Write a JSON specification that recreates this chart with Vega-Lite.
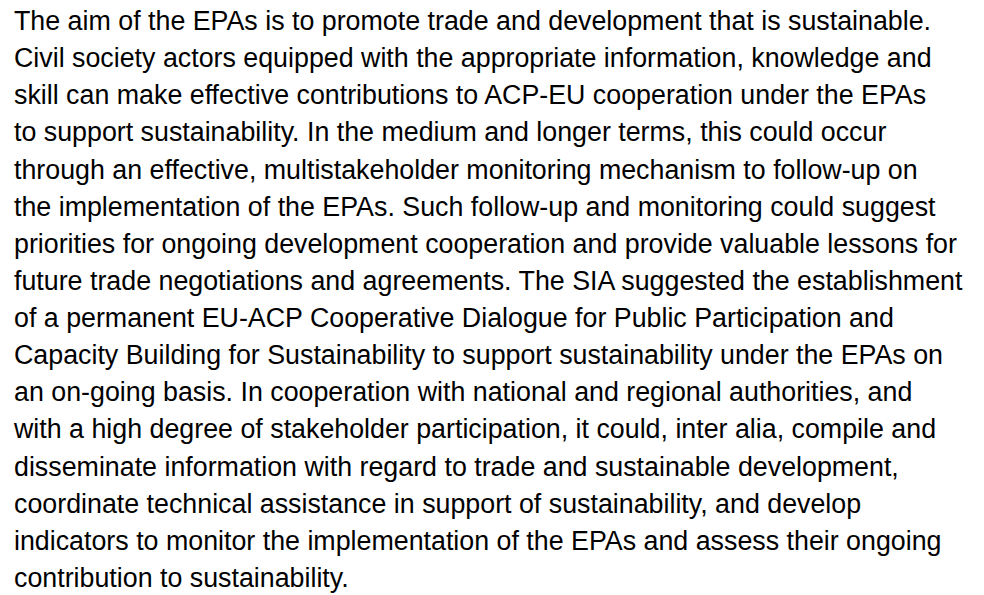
{
  "$schema": "https://vega.github.io/schema/vega-lite/v6.json",
  "width": 984,
  "height": 595,
  "autosize": {"type": "fit", "contains": "padding"},
  "padding": 0,
  "background": "white",
  "config": {"view": {"stroke": null}},
  "data": {"values": [
    {"line": 1, "text": "The aim of the EPAs is to promote trade and development that is sustainable."},
    {"line": 2, "text": "Civil society actors equipped with the appropriate information, knowledge and"},
    {"line": 3, "text": "skill can make effective contributions to ACP-EU cooperation under the EPAs"},
    {"line": 4, "text": "to support sustainability. In the medium and longer terms, this could occur"},
    {"line": 5, "text": "through an effective, multistakeholder monitoring mechanism to follow-up on"},
    {"line": 6, "text": "the implementation of the EPAs. Such follow-up and monitoring could suggest"},
    {"line": 7, "text": "priorities for ongoing development cooperation and provide valuable lessons for"},
    {"line": 8, "text": "future trade negotiations and agreements. The SIA suggested the establishment"},
    {"line": 9, "text": "of a permanent EU-ACP Cooperative Dialogue for Public Participation and"},
    {"line": 10, "text": "Capacity Building for Sustainability to support sustainability under the EPAs on"},
    {"line": 11, "text": "an on-going basis. In cooperation with national and regional authorities, and"},
    {"line": 12, "text": "with a high degree of stakeholder participation, it could, inter alia, compile and"},
    {"line": 13, "text": "disseminate information with regard to trade and sustainable development,"},
    {"line": 14, "text": "coordinate technical assistance in support of sustainability, and develop"},
    {"line": 15, "text": "indicators to monitor the implementation of the EPAs and assess their ongoing"},
    {"line": 16, "text": "contribution to sustainability."}
  ]},
  "mark": {"type": "text", "align": "left", "baseline": "alphabetic", "font": "Liberation Sans", "fontSize": 26.8, "color": "#000000"},
  "encoding": {
    "x": {"datum": 0, "type": "quantitative", "scale": {"domain": [0, 1], "range": [14, 984]}, "axis": null},
    "y": {"field": "line", "type": "quantitative", "scale": {"domain": [1, 16], "range": [30, 587], "zero": false, "nice": false}, "axis": null},
    "text": {"field": "text"}
  }
}
